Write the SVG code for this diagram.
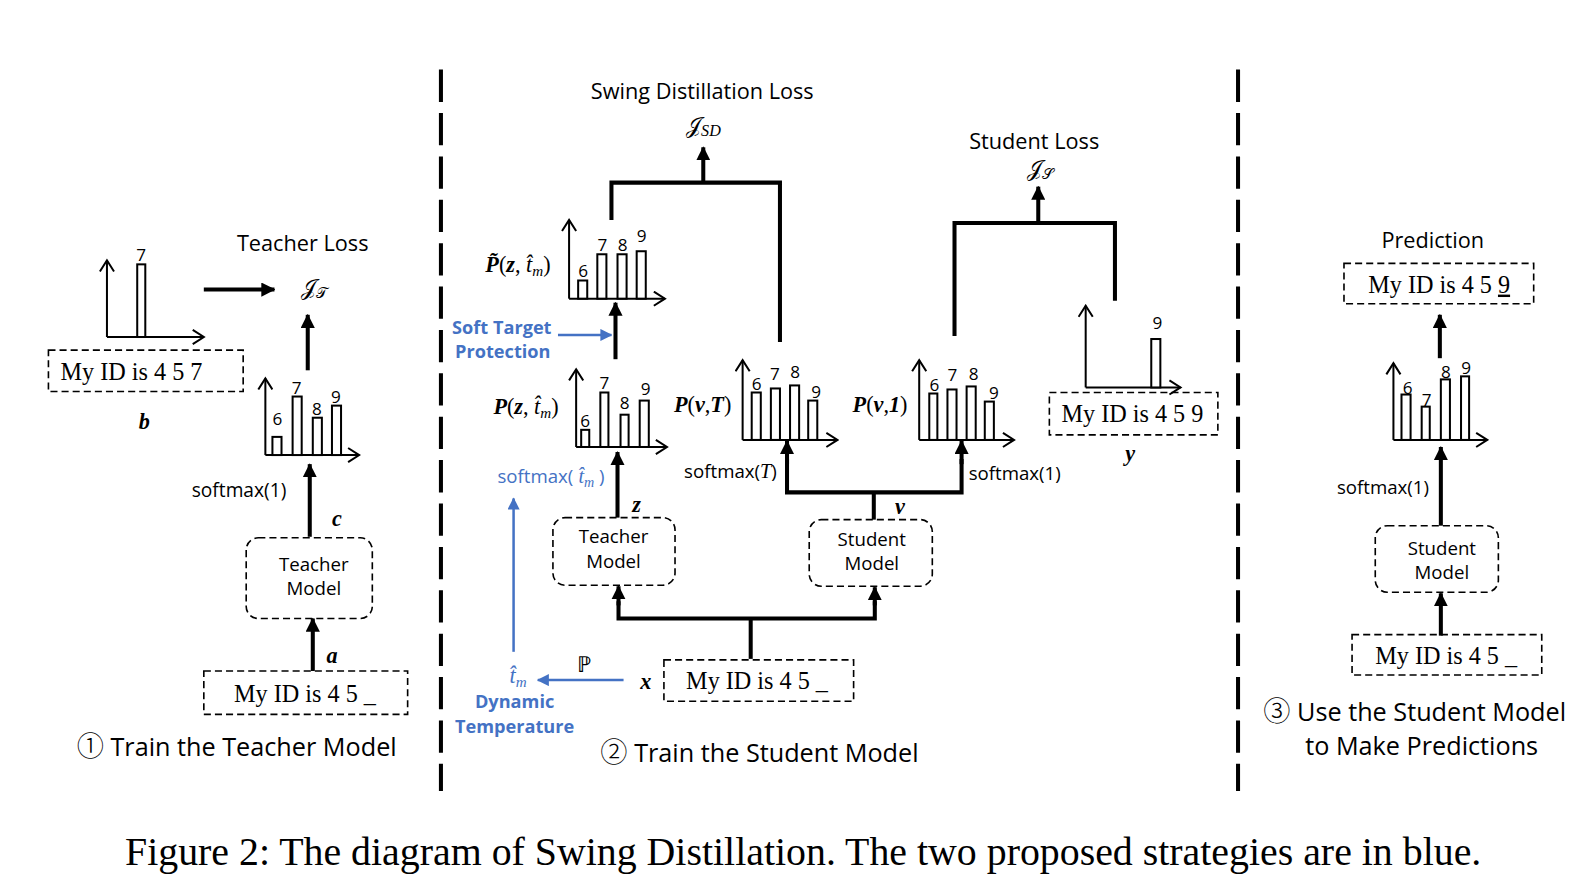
<svg xmlns="http://www.w3.org/2000/svg" width="1582" height="894" viewBox="0 0 1582 894">
<defs>
<marker id="fa" markerUnits="userSpaceOnUse" markerWidth="14" markerHeight="14" refX="13" refY="7" orient="auto"><path d="M0,0 L14,7 L0,14 z" fill="#000"/></marker>
<marker id="fb" markerUnits="userSpaceOnUse" markerWidth="12" markerHeight="12" refX="11" refY="6" orient="auto"><path d="M0,0 L12,6 L0,12 z" fill="#4472C4"/></marker>
<marker id="oa" markerUnits="userSpaceOnUse" markerWidth="14" markerHeight="16" refX="12" refY="8" orient="auto"><path d="M1,1 L12,8 L1,15" fill="none" stroke="#000" stroke-width="2"/></marker>
</defs>
<style>
.ax{stroke:#000;stroke-width:2;fill:none;marker-end:url(#oa)}
.bar{stroke:#000;stroke-width:2;fill:#fff}
.thick{stroke:#000;stroke-width:4;fill:none}
.arr{stroke:#000;stroke-width:4;fill:none;marker-end:url(#fa)}
.barr{stroke:#4472C4;stroke-width:2.5;fill:none;marker-end:url(#fb)}
.dbox{fill:none;stroke:#000;stroke-width:1.6;stroke-dasharray:7 4}
.div{stroke:#000;stroke-width:4;stroke-dasharray:32 11}
.sans{font-family:"Open Sans","Noto Sans","DejaVu Sans",sans-serif;fill:#000}
.num{font-family:"Open Sans","Noto Sans",sans-serif;font-size:17px;text-anchor:middle}
.ser{font-family:"Liberation Serif","Times New Roman",serif;font-size:24px}
.math{font-family:"Liberation Serif","Times New Roman",serif;font-size:22px}
.scr{font-family:"DejaVu Serif","DejaVu Sans","Noto Sans",serif;font-style:normal}
.bi{font-weight:bold;font-style:italic}
.it{font-style:italic}
.blue{fill:#4472C4}
.circ{font-family:"Noto Sans CJK SC","DejaVu Sans",sans-serif;font-weight:300}
.bl{font-family:"Open Sans","Noto Sans",sans-serif;font-weight:bold;font-size:18px;fill:#4472C4}
</style>
<g transform="scale(1.009)">
<!-- dividers -->
<line class="div" x1="437" y1="69" x2="437" y2="784"/>
<line class="div" x1="1227" y1="69" x2="1227" y2="784"/>

<!-- connectors -->
<g id="connectors">
  <line class="arr" x1="202" y1="287" x2="272" y2="287"/>
  <line class="arr" x1="305" y1="367" x2="305" y2="312"/>
  <line class="arr" x1="307" y1="532" x2="307" y2="460"/>
  <line class="arr" x1="310" y1="665" x2="310" y2="613"/>

  <polyline class="thick" points="606,218 606,181 773,181 773,339"/>
  <line class="arr" x1="697" y1="182" x2="697" y2="146"/>
  <line class="arr" x1="610" y1="356" x2="610" y2="300"/>
  <line class="barr" x1="553" y1="332" x2="606" y2="332"/>
  <line class="arr" x1="612" y1="513" x2="612" y2="448"/>
  <line class="barr" x1="509" y1="646" x2="509" y2="494"/>
  <line class="barr" x1="618" y1="674" x2="533" y2="674"/>
  <line class="thick" x1="744" y1="653" x2="744" y2="613"/>
  <polyline class="thick" points="613,596 613,613 867,613 867,596"/>
  <line class="arr" x1="613" y1="600" x2="613" y2="581"/>
  <line class="arr" x1="867" y1="600" x2="867" y2="582"/>
  <line class="thick" x1="866" y1="515" x2="866" y2="488"/>
  <polyline class="thick" points="780,455 780,488 953,488 953,455"/>
  <line class="arr" x1="780" y1="460" x2="780" y2="437"/>
  <line class="arr" x1="953" y1="460" x2="953" y2="437"/>
  <polyline class="thick" points="946,333 946,221 1105,221 1105,298"/>
  <line class="arr" x1="1029" y1="221" x2="1029" y2="185"/>

  <line class="arr" x1="1427" y1="355" x2="1427" y2="312"/>
  <line class="arr" x1="1428" y1="521" x2="1428" y2="443"/>
  <line class="arr" x1="1428" y1="630" x2="1428" y2="588"/>
</g>

<!-- Section 1 -->
<g id="chart-b">
  <line class="ax" x1="106" y1="334" x2="106" y2="258"/>
  <line class="ax" x1="106" y1="334" x2="202" y2="334"/>
  <rect class="bar" x="136" y="262" width="8" height="72"/>
  <text class="sans num" x="140" y="259">7</text>
</g>
<g id="teacher-loss">
  <text class="sans" x="300" y="249" font-size="21.5" text-anchor="middle">Teacher Loss</text>
  <text class="math scr" x="298" y="292" font-size="24">𝒥<tspan font-size="15" dy="3">𝒯</tspan></text>
</g>
<g id="label-b">
  <rect class="dbox" x="48" y="347" width="193" height="41"/>
  <text class="ser" x="60" y="377">My ID is 4 5 7</text>
  <text class="math bi" x="143" y="425" font-size="22" text-anchor="middle">b</text>
</g>
<g id="chart-c1">
  <line class="ax" x1="263" y1="451" x2="263" y2="375"/>
  <line class="ax" x1="263" y1="451" x2="356" y2="451"/>
  <rect class="bar" x="270" y="433" width="9" height="18"/>
  <rect class="bar" x="290" y="393" width="9" height="58"/>
  <rect class="bar" x="310" y="414" width="9" height="37"/>
  <rect class="bar" x="329" y="402" width="9" height="49"/>
  <text class="sans num" x="275" y="421">6</text>
  <text class="sans num" x="294" y="390">7</text>
  <text class="sans num" x="314" y="411">8</text>
  <text class="sans num" x="333" y="399">9</text>
</g>
<text class="sans" x="190" y="493" font-size="19">softmax(1)</text>
<text class="math bi" x="334" y="521" font-size="22" text-anchor="middle">c</text>
<g id="teacher-model-1">
  <rect class="dbox" x="244" y="533" width="125" height="80" rx="12"/>
  <text class="sans" x="311" y="566" font-size="18.5" text-anchor="middle">Teacher</text>
  <text class="sans" x="311" y="590" font-size="18.5" text-anchor="middle">Model</text>
</g>
<text class="math bi" x="329" y="657" font-size="22" text-anchor="middle">a</text>
<g id="input-1">
  <rect class="dbox" x="202" y="665" width="202" height="43"/>
  <text class="ser" x="232" y="696">My ID is 4 5 _</text>
</g>
<text class="sans" x="76" y="749" font-size="25"><tspan class="circ" font-size="27">①</tspan> Train the Teacher Model</text>

<!-- Section 2 -->
<g id="sd-loss">
  <text class="sans" x="696" y="98" font-size="21.5" text-anchor="middle">Swing Distillation Loss</text>
  <text class="math scr" x="680" y="132" font-size="24">𝒥<tspan class="it" font-family="Liberation Serif" font-size="16" dy="3">SD</tspan></text>
</g>
<g id="chart-ptilde">
  <line class="ax" x1="564" y1="296" x2="564" y2="218"/>
  <line class="ax" x1="564" y1="296" x2="659" y2="296"/>
  <rect class="bar" x="573" y="278" width="9" height="18"/>
  <rect class="bar" x="592" y="252" width="9" height="44"/>
  <rect class="bar" x="612" y="252" width="9" height="44"/>
  <rect class="bar" x="631" y="249" width="9" height="47"/>
  <text class="sans num" x="578" y="275">6</text>
  <text class="sans num" x="597" y="249">7</text>
  <text class="sans num" x="617" y="249">8</text>
  <text class="sans num" x="636" y="240">9</text>
  <text class="math" x="481" y="270" font-size="22"><tspan class="bi">P̃</tspan>(<tspan class="bi">z</tspan>, <tspan class="it">t̂</tspan><tspan class="it" font-size="15" dy="4">m</tspan><tspan dy="-4">)</tspan></text>
</g>
<g id="soft-target">
  <text class="bl" x="448" y="331">Soft Target</text>
  <text class="bl" x="451" y="355">Protection</text>
</g>
<g id="chart-pz">
  <line class="ax" x1="571" y1="443" x2="571" y2="366"/>
  <line class="ax" x1="571" y1="443" x2="661" y2="443"/>
  <rect class="bar" x="576" y="426" width="8" height="17"/>
  <rect class="bar" x="595" y="389" width="8" height="54"/>
  <rect class="bar" x="615" y="411" width="8" height="32"/>
  <rect class="bar" x="634" y="397" width="9" height="46"/>
  <text class="sans num" x="580" y="423">6</text>
  <text class="sans num" x="599" y="386">7</text>
  <text class="sans num" x="619" y="405">8</text>
  <text class="sans num" x="640" y="391">9</text>
  <text class="math" x="489" y="410" font-size="22"><tspan class="bi">P</tspan>(<tspan class="bi">z</tspan>, <tspan class="it">t̂</tspan><tspan class="it" font-size="15" dy="4">m</tspan><tspan dy="-4">)</tspan></text>
</g>
<text class="sans blue" x="493" y="479" font-size="18.5">softmax(<tspan font-family="Liberation Serif" font-style="italic" font-size="20"> t̂</tspan><tspan font-family="Liberation Serif" font-style="italic" font-size="14" dy="4">m</tspan><tspan dy="-4"> )</tspan></text>
<text class="math bi" x="631" y="507" font-size="22" text-anchor="middle">z</text>
<g id="teacher-model-2">
  <rect class="dbox" x="548" y="513" width="121" height="67" rx="12"/>
  <text class="sans" x="608" y="538" font-size="18.5" text-anchor="middle">Teacher</text>
  <text class="sans" x="608" y="563" font-size="18.5" text-anchor="middle">Model</text>
</g>
<g id="student-model-2">
  <rect class="dbox" x="802" y="515" width="122" height="66" rx="12"/>
  <text class="sans" x="864" y="541" font-size="18.5" text-anchor="middle">Student</text>
  <text class="sans" x="864" y="565" font-size="18.5" text-anchor="middle">Model</text>
</g>
<g id="input-2">
  <rect class="dbox" x="658" y="654" width="188" height="41"/>
  <text class="ser" x="680" y="683">My ID is 4 5 _</text>
  <text class="math bi" x="640" y="683" font-size="22" text-anchor="middle">x</text>
</g>
<g id="dynamic-temp">
  <text class="math" x="579" y="666" font-size="19" text-anchor="middle" font-family="DejaVu Serif">ℙ</text>
  <text class="math it blue" x="505" y="677" font-size="22">t̂<tspan font-size="15" dy="4">m</tspan></text>
  <text class="bl" x="510" y="702" text-anchor="middle">Dynamic</text>
  <text class="bl" x="510" y="726" text-anchor="middle">Temperature</text>
</g>
<text class="sans" x="595" y="755" font-size="25"><tspan class="circ" font-size="27">②</tspan> Train the Student Model</text>

<g id="chart-pvT">
  <line class="ax" x1="736" y1="436" x2="736" y2="357"/>
  <line class="ax" x1="736" y1="436" x2="830" y2="436"/>
  <rect class="bar" x="745" y="389" width="9" height="47"/>
  <rect class="bar" x="764" y="385" width="9" height="51"/>
  <rect class="bar" x="783" y="382" width="9" height="54"/>
  <rect class="bar" x="801" y="397" width="9" height="39"/>
  <text class="sans num" x="750" y="387">6</text>
  <text class="sans num" x="768" y="377">7</text>
  <text class="sans num" x="788" y="375">8</text>
  <text class="sans num" x="809" y="394">9</text>
  <text class="math" x="668" y="408" font-size="22"><tspan class="bi">P</tspan>(<tspan class="bi">v</tspan>,<tspan class="bi">T</tspan>)</text>
</g>
<g id="chart-pv1">
  <line class="ax" x1="911" y1="436" x2="911" y2="357"/>
  <line class="ax" x1="911" y1="436" x2="1005" y2="436"/>
  <rect class="bar" x="921" y="390" width="8" height="46"/>
  <rect class="bar" x="939" y="386" width="9" height="50"/>
  <rect class="bar" x="958" y="383" width="9" height="53"/>
  <rect class="bar" x="976" y="398" width="9" height="38"/>
  <text class="sans num" x="926" y="388">6</text>
  <text class="sans num" x="944" y="378">7</text>
  <text class="sans num" x="965" y="377">8</text>
  <text class="sans num" x="985" y="395">9</text>
  <text class="math" x="845" y="408" font-size="22"><tspan class="bi">P</tspan>(<tspan class="bi">v</tspan>,<tspan class="bi">1</tspan>)</text>
</g>
<text class="sans" x="678" y="474" font-size="18.5">softmax(<tspan font-family="Liberation Serif" font-style="italic" font-size="20">T</tspan>)</text>
<text class="sans" x="960" y="476" font-size="18.5">softmax(1)</text>
<text class="math bi" x="892" y="509" font-size="22" text-anchor="middle">v</text>

<g id="student-loss">
  <text class="sans" x="1025" y="148" font-size="21.5" text-anchor="middle">Student Loss</text>
  <text class="math scr" x="1018" y="174" font-size="24">𝒥<tspan font-size="15" dy="3">𝒮</tspan></text>
</g>
<g id="chart-y">
  <line class="ax" x1="1076" y1="384" x2="1076" y2="303"/>
  <line class="ax" x1="1076" y1="384" x2="1170" y2="384"/>
  <rect class="bar" x="1141" y="336" width="9" height="48"/>
  <text class="sans num" x="1147" y="326">9</text>
</g>
<g id="label-y">
  <rect class="dbox" x="1040" y="389" width="167" height="42"/>
  <text class="ser" x="1052" y="418">My ID is 4 5 9</text>
  <text class="math bi" x="1120" y="457" font-size="22" text-anchor="middle">y</text>
</g>

<!-- Section 3 -->
<text class="sans" x="1420" y="246" font-size="21.5" text-anchor="middle">Prediction</text>
<g id="prediction">
  <rect class="dbox" x="1332" y="261" width="188" height="40"/>
  <text class="ser" x="1356" y="290">My ID is 4 5 <tspan text-decoration="underline">9</tspan></text>
</g>
<g id="chart-pred">
  <line class="ax" x1="1381" y1="436" x2="1381" y2="360"/>
  <line class="ax" x1="1381" y1="436" x2="1474" y2="436"/>
  <rect class="bar" x="1389" y="391" width="9" height="45"/>
  <rect class="bar" x="1409" y="403" width="8" height="33"/>
  <rect class="bar" x="1428" y="376" width="9" height="60"/>
  <rect class="bar" x="1448" y="373" width="8" height="63"/>
  <text class="sans num" x="1395" y="390">6</text>
  <text class="sans num" x="1414" y="402">7</text>
  <text class="sans num" x="1433" y="375">8</text>
  <text class="sans num" x="1453" y="371">9</text>
</g>
<text class="sans" x="1325" y="490" font-size="18.5">softmax(1)</text>
<g id="student-model-3">
  <rect class="dbox" x="1363" y="521" width="122" height="66" rx="12"/>
  <text class="sans" x="1429" y="550" font-size="18.5" text-anchor="middle">Student</text>
  <text class="sans" x="1429" y="574" font-size="18.5" text-anchor="middle">Model</text>
</g>
<g id="input-3">
  <rect class="dbox" x="1340" y="629" width="188" height="40"/>
  <text class="ser" x="1363" y="658">My ID is 4 5 _</text>
</g>
<text class="sans" x="1252" y="715" font-size="25"><tspan class="circ" font-size="27">③</tspan> Use the Student Model</text>
<text class="sans" x="1409" y="748" font-size="25" text-anchor="middle">to Make Predictions</text>

<!-- caption -->
<text x="796" y="857" font-family="Liberation Serif, Times New Roman, serif" font-size="39.5" text-anchor="middle">Figure 2: The diagram of Swing Distillation. The two proposed strategies are in blue.</text>
</g>
</svg>
